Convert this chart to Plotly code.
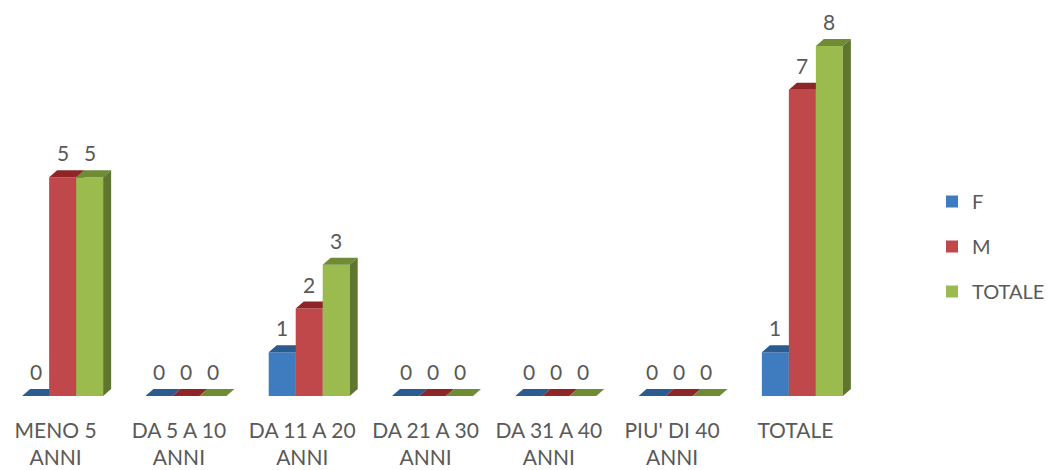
import plotly.graph_objects as go

# --- data ---
categories = ["MENO 5<br>ANNI", "DA 5 A 10<br>ANNI", "DA 11 A 20<br>ANNI", "DA 21 A 30<br>ANNI",
              "DA 31 A 40<br>ANNI", "PIU' DI 40<br>ANNI", "TOTALE"]
series_names = ["F", "M", "TOTALE"]
f_values = [0, 0, 1, 0, 0, 0, 1]
m_values = [5, 0, 2, 0, 0, 0, 7]
totale_values = [5, 0, 3, 0, 0, 0, 8]

# --- style ---
FONT = "Lato"
TEXT_COLOR = "#595959"
front_colors = ["#3F7BBF", "#C0474A", "#9BBB4F"]
top_colors = ["#2C5B90", "#8E2628", "#6F8B33"]
side_colors = ["#2A5280", "#842626", "#5F7530"]

W, H = 1050, 470
ML, MR, MT, MB = 1, 186, 2, 74
plot_w = W - ML - MR
plot_h = H - MT - MB
X_RANGE = [-0.5, len(categories) - 0.5]
PX_PER_UNIT_Y = 43.75
Y_RANGE = [0, plot_h / PX_PER_UNIT_Y]
px_x = plot_w / (X_RANGE[1] - X_RANGE[0])

BAR_W = 0.219                 # width of one column, in category units
DEPTH_DX = 8 / px_x           # 3D depth, horizontal (data units)
DEPTH_DY = 7 / PX_PER_UNIT_Y  # 3D depth, vertical (data units)

all_values = [f_values, m_values, totale_values]
idx = list(range(len(categories)))

fig = go.Figure()


def polys(points_list):
    xs, ys = [], []
    for pts in points_list:
        for (px, py) in pts:
            xs.append(px)
            ys.append(py)
        xs.append(pts[0][0])
        ys.append(pts[0][1])
        xs.append(None)
        ys.append(None)
    return xs, ys


for k, (name, vals) in enumerate(zip(series_names, all_values)):
    sfx = "" if k == 0 else str(k + 1)
    xa, ya = "x" + sfx, "y" + sfx
    offset = (k - 1) * BAR_W - BAR_W / 2

    # front faces
    fig.add_trace(go.Bar(
        x=idx, y=vals, width=BAR_W, offset=offset, name=name,
        marker=dict(color=front_colors[k], line=dict(width=0)),
        xaxis=xa, yaxis=ya, legendgroup=name, showlegend=True,
    ))

    # top and side faces
    tops = []
    sides = []
    for i, v in zip(idx, vals):
        x0 = i + offset
        x1 = x0 + BAR_W
        tops.append([(x0, v), (x1, v), (x1 + DEPTH_DX, v + DEPTH_DY), (x0 + DEPTH_DX, v + DEPTH_DY)])
        if v > 0:
            sides.append([(x1, 0), (x1 + DEPTH_DX, DEPTH_DY), (x1 + DEPTH_DX, v + DEPTH_DY), (x1, v)])
    tx, ty = polys(tops)
    fig.add_trace(go.Scatter(
        x=tx, y=ty, mode="lines", fill="toself", fillcolor=top_colors[k],
        line=dict(width=0, color=top_colors[k]), hoverinfo="skip",
        xaxis=xa, yaxis=ya, showlegend=False,
    ))
    if sides:
        sx, sy = polys(sides)
        fig.add_trace(go.Scatter(
            x=sx, y=sy, mode="lines", fill="toself", fillcolor=side_colors[k],
            line=dict(width=0, color=side_colors[k]), hoverinfo="skip",
            xaxis=xa, yaxis=ya, showlegend=False,
        ))

    # value labels
    for i, v in zip(idx, vals):
        fig.add_annotation(
            x=i + offset + BAR_W / 2, y=v, xref="x", yref="y",
            text=str(v), showarrow=False, yanchor="bottom", yshift=10,
            font=dict(family=FONT, size=21, color=TEXT_COLOR),
        )

axis_common = dict(range=X_RANGE, showgrid=False, zeroline=False, showline=False,
                   fixedrange=True)
yaxis_common = dict(range=Y_RANGE, showgrid=False, zeroline=False, showline=False,
                    showticklabels=False, fixedrange=True)

fig.update_layout(
    width=W, height=H,
    margin=dict(l=ML, r=MR, t=MT, b=MB, autoexpand=False),
    paper_bgcolor="white", plot_bgcolor="white",
    barmode="overlay",
    showlegend=True,
    legend=dict(
        x=(932 - ML) / plot_w, xanchor="left",
        y=1 - (182 - MT) / plot_h, yanchor="top",
        font=dict(family=FONT, size=20, color=TEXT_COLOR),
        traceorder="grouped", tracegroupgap=16,
        bgcolor="rgba(0,0,0,0)",
    ),
    xaxis=dict(**axis_common, tickmode="array", tickvals=idx, ticktext=categories,
               tickfont=dict(family=FONT, size=21, color=TEXT_COLOR),
               ticks="", ticklabelshift=-7, ticklabelstandoff=20),
    yaxis=dict(**yaxis_common),
    xaxis2=dict(**axis_common, overlaying="x", showticklabels=False),
    yaxis2=dict(**yaxis_common, overlaying="y"),
    xaxis3=dict(**axis_common, overlaying="x", showticklabels=False),
    yaxis3=dict(**yaxis_common, overlaying="y"),
)

fig.write_html("out.html")
